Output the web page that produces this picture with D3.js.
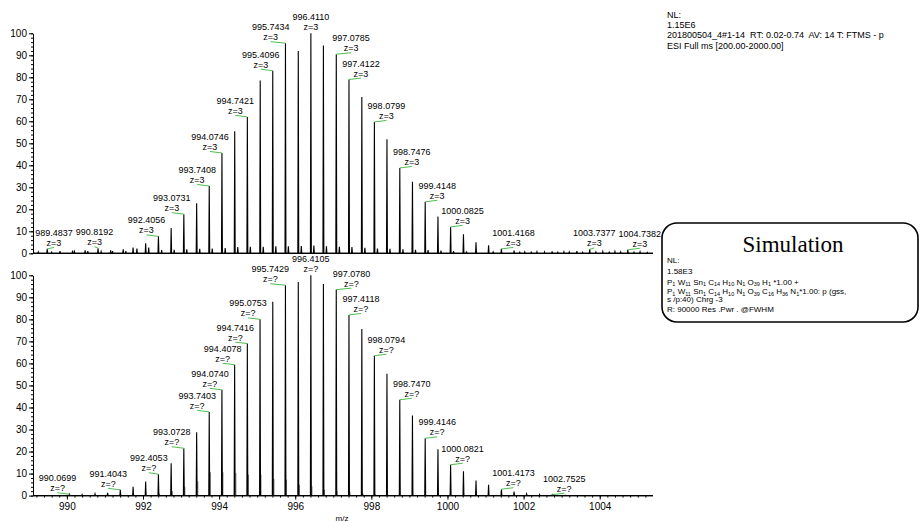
<!DOCTYPE html>
<html>
<head>
<meta charset="utf-8">
<script src="https://cdn.jsdelivr.net/npm/d3@7/dist/d3.min.js"></script>
<style>
body { margin: 0; background: #fff; }
svg text { font-family: "Liberation Sans", Arial, Helvetica, sans-serif; fill: #000; white-space: pre; }
</style>
</head>
<body>
<svg id="chart" width="920" height="522"></svg>
<script>
// measured spectrum (top), main isotope peaks + small stuff on the baseline
var expMz = [989.4837, 989.82, 990.15, 990.48, 990.8192, 991.15, 991.48, 991.74, 992.07, 992.4056,
  992.74, 993.0731, 993.41, 993.7408, 994.0746, 994.41, 994.7421, 995.08, 995.4096, 995.7434,
  996.08, 996.4110, 996.74, 997.0785, 997.4122, 997.75, 998.0799, 998.41, 998.7476, 999.08,
  999.4148, 999.75, 1000.0825, 1000.42, 1000.75, 1001.08, 1001.4168, 1001.75, 1002.03, 1002.35,
  1002.75, 1003.06, 1003.40, 1003.7377, 1004.08, 1004.40, 1004.7382, 1005.06];
var expInt = [2.0, 1.0, 1.2, 1.4, 2.3, 1.4, 1.8, 2.6, 4.5, 7.7,
  11.5, 17.8, 22.7, 30.6, 45.6, 55.5, 62, 78.6, 83, 95.5,
  92, 100, 94.5, 90.5, 79, 71, 59.7, 51.8, 38.8, 32.5,
  23.4, 16.7, 12, 8.7, 5, 3.6, 2, 1.2, 0.6, 0.7,
  0.9, 0.7, 1.0, 1.8, 0.8, 0.8, 1.6, 0.7];
var expMinorMz = [989.25, 989.6, 990.2, 990.55, 990.9, 991.2, 991.55, 991.84, 992.15, 992.49,
  992.82, 993.15, 993.49, 993.82, 994.16, 994.49, 994.82, 995.16, 995.49, 995.82,
  996.16, 996.49, 996.82, 997.16, 997.49, 997.83, 998.16, 998.49, 998.83, 999.16,
  999.49, 999.83, 1000.16, 1000.5, 1001.2, 1001.9, 1002.2, 1002.55, 1002.9, 1003.2,
  1003.55, 1003.9, 1004.25, 1004.55, 1004.9, 1005.25];
var expMinorInt = [0.6, 0.5, 0.8, 1.0, 0.8, 1.0, 1.0, 2.2, 2.6, 1.5,
  1.6, 1.8, 2.0, 2.2, 2.4, 2.8, 3.0, 3.0, 3.2, 3.2,
  3.3, 3.5, 3.2, 3.0, 2.8, 2.5, 2.2, 2.0, 1.8, 1.6,
  1.5, 1.2, 1.0, 0.9, 0.6, 0.5, 0.5, 0.6, 0.5, 0.6,
  0.5, 0.6, 0.5, 0.6, 0.5, 0.4];
var expLabels = [989.4837, 990.8192, 992.4056, 993.0731, 993.7408, 994.0746, 994.7421, 995.4096,
  995.7434, 996.4110, 997.0785, 997.4122, 998.0799, 998.7476, 999.4148, 1000.0825, 1001.4168,
  1003.7377, 1004.7382];

// simulated pattern (bottom)
var simMz = [990.0699, 990.40, 990.74, 991.07, 991.4043, 991.74, 992.07, 992.4053, 992.74, 993.0728,
  993.41, 993.7403, 994.0740, 994.4078, 994.7416, 995.0753, 995.41, 995.7429, 996.08, 996.4105,
  996.74, 997.0780, 997.4118, 997.75, 998.0794, 998.41, 998.7470, 999.08, 999.4146, 999.75,
  1000.0821, 1000.42, 1000.75, 1001.08, 1001.4173, 1001.75, 1002.08, 1002.42, 1002.7525, 1003.09];
var simInt = [0.6, 0.5, 0.8, 1.3, 2.6, 4.0, 6.4, 9.7, 14.7, 21.5,
  28.8, 38, 48, 59.4, 69, 80, 88, 95.5, 97, 100,
  96, 93.5, 82, 75.6, 63.5, 55.3, 43.5, 36.4, 26, 21,
  14, 11, 6.8, 4.9, 2.9, 1.8, 0.8, 0.5, 0.4, 0.15];
// second species in the simulation, drawn grey
var simMinorMz = [992.43, 992.77, 993.10, 993.44, 993.77, 994.10, 994.44, 994.77, 995.10, 995.44,
  995.77, 996.11, 996.44, 996.77, 997.10, 997.44, 997.78, 998.11, 998.44];
var simMinorInt = [1.0, 2.0, 4.0, 6.5, 10.6, 10.6, 10.3, 9.5, 9.5, 7.6,
  7.3, 5.0, 4.2, 2.7, 2.0, 1.5, 1.0, 0.6, 0.4];
var simLabels = [990.0699, 991.4043, 992.4053, 993.0728, 993.7403, 994.0740, 994.4078, 994.7416,
  995.0753, 995.7429, 996.4105, 997.0780, 997.4118, 998.0794, 998.7470, 999.4146, 1000.0821,
  1001.4173, 1002.7525];

var xMajor = [990, 992, 994, 996, 998, 1000, 1002, 1004];
var yMajor = [0, 10, 20, 30, 40, 50, 60, 70, 80, 90, 100];

var infoLines = ["NL:", "1.15E6", "201800504_4#1-14  RT: 0.02-0.74  AV: 14 T: FTMS - p",
  "ESI Full ms [200.00-2000.00]"];
var simLines = ["NL:", "1.58E3",
  "P_{1} W_{11} Sn_{1} C_{14} H_{10} N_{1} O_{39} H_{1} *1.00 +",
  "P_{1} W_{11} Sn_{1} C_{14} H_{10} N_{1} O_{39} C_{16} H_{36} N_{1}*1.00: p (gss,",
  "s /p:40) Chrg -3",
  "R: 90000 Res .Pwr . @FWHM"];

var GREEN = "#4cbf4c";
var svg = d3.select("#chart");
var x = d3.scaleLinear().domain([989.11, 1005.4]).range([33, 653]);

function peakPath(y, mz, inten, extra){
  var pk = mz.map(function(m, i){ return [m, inten[i]]; });
  if (extra) pk = pk.concat(extra);
  pk.sort(function(a, b){ return a[0] - b[0]; });
  var pts = [[x.domain()[0], 0]];
  pk.forEach(function(p){
    pts.push([p[0] - 0.012, 0], [p[0], p[1]], [p[0] + 0.012, 0]);
  });
  pts.push([x.domain()[1], 0]);
  return d3.line().x(function(d){ return x(d[0]); }).y(function(d){ return y(d[1]); })(pts);
}

function drawPanel(opt){
  var y = d3.scaleLinear().domain([0, 100]).range([opt.bottom, opt.top]);
  var g = svg.append("g");

  // y axis, minor ticks first
  g.append("g").attr("transform", "translate(33,0)")
    .call(d3.axisLeft(y).tickValues(d3.range(0, 101, 2)).tickSize(2).tickFormat(""))
    .call(function(a){ a.select(".domain").remove(); });
  var ya = g.append("g").attr("transform", "translate(33,0)")
    .call(d3.axisLeft(y).tickValues(yMajor).tickSize(4).tickSizeOuter(0).tickPadding(2));
  ya.selectAll("text").style("font-size", "10px");

  // x axis line (baseline)
  g.append("line").attr("x1", x.range()[0]).attr("x2", x.range()[1])
    .attr("y1", y(0)).attr("y2", y(0)).attr("stroke", "#000").attr("stroke-width", 1.2);

  if (opt.xLabels){
    g.append("g").attr("transform", "translate(0," + y(0) + ")")
      .call(d3.axisBottom(x).tickValues(d3.range(989.2, 1005.4, 0.2)).tickSize(2).tickFormat(""))
      .call(function(a){ a.select(".domain").remove(); });
    var xa = g.append("g").attr("transform", "translate(0," + y(0) + ")")
      .call(d3.axisBottom(x).tickValues(xMajor).tickSize(4).tickSizeOuter(0).tickFormat(d3.format("d")));
    xa.select(".domain").remove();
    xa.selectAll("text").style("font-size", "10px");
  }
  g.selectAll(".tick line").attr("stroke", "#000");

  if (opt.greyMz){
    g.selectAll("line.grey").data(opt.greyMz).enter().append("line")
      .attr("class", "grey")
      .attr("x1", function(d){ return x(d); }).attr("x2", function(d){ return x(d); })
      .attr("y1", y(0))
      .attr("y2", function(d, i){ return y(opt.greyInt[i]); })
      .attr("stroke", "#777").attr("stroke-width", 1);
  }

  g.append("path")
    .attr("d", peakPath(y, opt.mz, opt.inten, opt.extra))
    .attr("fill", "none").attr("stroke", "#000")
    .attr("stroke-width", 1.1).attr("stroke-linejoin", "miter");

  // peak labels: shifted 12px away from the apex, kept off the axis,
  // then nudged apart where two label blocks collide
  var apex = opt.mz[opt.inten.indexOf(d3.max(opt.inten))];
  var fmt = d3.format(".4f");
  var xmin = x.range()[0] + 21;
  var labs = opt.labels.map(function(m){
    var i = opt.mz.indexOf(m);
    var l = { m: m, px: x(m), py: y(opt.inten[i]) };
    l.side = m < apex - 0.001 ? -1 : (m > apex + 0.001 ? 1 : 0);
    l.lx = Math.max(l.px + l.side * 12, xmin);
    l.mass = g.append("text").attr("y", l.py - 13)
      .attr("text-anchor", "middle").style("font-size", "9px").text(fmt(m));
    l.z = g.append("text").attr("y", l.py - 3)
      .attr("text-anchor", "middle").style("font-size", "9px").text(opt.charge);
    l.w = l.mass.node().getComputedTextLength();
    return l;
  });
  for (var k = 1; k < labs.length; k++){
    var a = labs[k - 1], b = labs[k];
    if (Math.abs(a.py - b.py) >= 21) continue;
    var ov = (a.lx + a.w / 2 + 3) - (b.lx - b.w / 2);
    if (ov <= 0) continue;
    var d;
    if (b.side == -1){
      d = Math.min(ov, Math.max(0, b.px - b.lx));
      b.lx += d; ov -= d;
    }
    if (ov > 0 && a.side == 1){
      d = Math.min(ov, a.lx - a.px);
      a.lx -= d; ov -= d;
    }
    if (ov > 0){
      if (a.side == -1) a.lx -= ov;
      else b.lx += ov;
    }
  }
  labs.forEach(function(l){
    l.mass.attr("x", l.lx);
    l.z.attr("x", l.lx);
    if (Math.abs(l.lx - l.px) > 1){
      g.append("line").attr("x1", l.px).attr("y1", l.py)
        .attr("x2", l.lx).attr("y2", l.py - 1.5)
        .attr("stroke", GREEN).attr("stroke-width", 1);
    }
  });
  return y;
}

drawPanel({
  top: 33.3, bottom: 253.3, mz: expMz, inten: expInt,
  extra: expMinorMz.map(function(m, i){ return [m, expMinorInt[i]]; }),
  labels: expLabels, charge: "z=3", xLabels: false
});
drawPanel({
  top: 275.3, bottom: 495.6, mz: simMz, inten: simInt,
  greyMz: simMinorMz, greyInt: simMinorInt,
  labels: simLabels, charge: "z=?", xLabels: true
});

svg.append("text").attr("x", 342).attr("y", 521)
  .attr("text-anchor", "middle").style("font-size", "8px").text("m/z");

// header text of the measured spectrum
svg.append("g").selectAll("text").data(infoLines).enter().append("text")
  .attr("x", 667)
  .attr("y", function(d, i){ return 18 + i * 10.2; })
  .style("font-size", "9px")
  .text(function(d){ return d; });

// simulation box
svg.append("rect").attr("x", 662).attr("y", 223).attr("width", 256).attr("height", 99)
  .attr("rx", 15).attr("ry", 15)
  .attr("fill", "#fff").attr("stroke", "#000").attr("stroke-width", 1.6);
svg.append("text").attr("x", 793).attr("y", 252).attr("text-anchor", "middle")
  .style("font-family", "'Liberation Serif', 'Times New Roman', serif")
  .style("font-size", "23px").text("Simulation");

var simY = [263, 274, 284.5, 294, 302, 312];
simLines.forEach(function(line, i){
  var t = svg.append("text").attr("x", 667).attr("y", simY[i]).style("font-size", "8px");
  // split "Xx_{nn}" into normal + subscript pieces
  var parts = line.split(/(_\{\d+\})/);
  var back = 0;
  parts.forEach(function(p){
    if (!p) return;
    var m = p.match(/^_\{(\d+)\}$/);
    if (m){
      t.append("tspan").attr("dy", 1.8).style("font-size", "5.5px").text(m[1]);
      back = -1.8;
    } else {
      t.append("tspan").attr("dy", back).text(p);
      back = 0;
    }
  });
});
</script>
</body>
</html>
